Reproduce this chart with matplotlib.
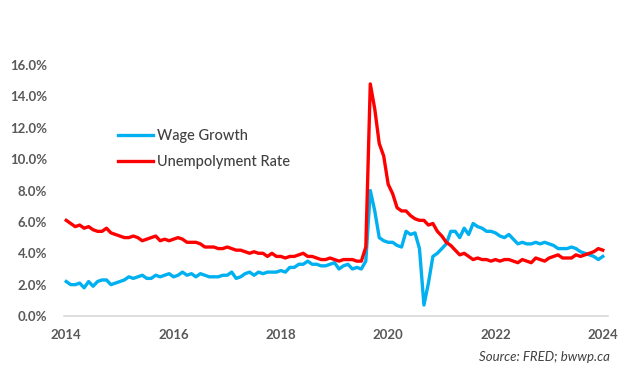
import matplotlib
matplotlib.use("Agg")
import matplotlib.pyplot as plt
from matplotlib.ticker import FuncFormatter

# monthly, Aug 2014 .. Aug 2024 (121 points)
unemployment = [
    6.1, 5.9, 5.7, 5.8, 5.6,
    5.7, 5.5, 5.4, 5.4, 5.6, 5.3, 5.2, 5.1, 5.0, 5.0, 5.1, 5.0,
    4.8, 4.9, 5.0, 5.1, 4.8, 4.9, 4.8, 4.9, 5.0, 4.9, 4.7, 4.7,
    4.7, 4.6, 4.4, 4.4, 4.4, 4.3, 4.3, 4.4, 4.3, 4.2, 4.2, 4.1,
    4.0, 4.1, 4.0, 4.0, 3.8, 4.0, 3.8, 3.8, 3.7, 3.8, 3.8, 3.9,
    4.0, 3.8, 3.8, 3.7, 3.6, 3.6, 3.7, 3.6, 3.5, 3.6, 3.6, 3.6,
    3.5, 3.5, 4.4, 14.8, 13.2, 11.0, 10.2, 8.4, 7.8, 6.9, 6.7, 6.7,
    6.4, 6.2, 6.1, 6.1, 5.8, 5.9, 5.4, 5.1, 4.7, 4.5, 4.2, 3.9,
    4.0, 3.8, 3.6, 3.7, 3.6, 3.6, 3.5, 3.6, 3.5, 3.6, 3.6, 3.5,
    3.4, 3.6, 3.5, 3.4, 3.7, 3.6, 3.5, 3.7, 3.8, 3.9, 3.7, 3.7,
    3.7, 3.9, 3.8, 3.9, 4.0, 4.1, 4.3, 4.2,
]
wage_growth = [
    2.2, 2.0, 2.0, 2.1, 1.8,
    2.2, 1.9, 2.2, 2.3, 2.3, 2.0, 2.1, 2.2, 2.3, 2.5, 2.4, 2.5,
    2.6, 2.4, 2.4, 2.6, 2.5, 2.6, 2.7, 2.5, 2.6, 2.8, 2.6, 2.7,
    2.5, 2.7, 2.6, 2.5, 2.5, 2.5, 2.6, 2.6, 2.8, 2.4, 2.5, 2.7,
    2.8, 2.6, 2.8, 2.7, 2.8, 2.8, 2.8, 2.9, 2.8, 3.1, 3.1, 3.3,
    3.3, 3.5, 3.3, 3.3, 3.2, 3.2, 3.3, 3.4, 3.0, 3.2, 3.3, 3.0,
    3.1, 3.0, 3.5, 8.0, 6.7, 5.0, 4.8, 4.7, 4.7, 4.5, 4.4, 5.4,
    5.2, 5.3, 4.3, 0.7, 2.1, 3.8, 4.0, 4.3, 4.6, 5.4, 5.4, 5.0,
    5.6, 5.2, 5.9, 5.7, 5.6, 5.4, 5.4,
    5.3, 5.1, 5.0, 5.2, 4.9, 4.6, 4.7, 4.6, 4.6, 4.7, 4.6, 4.7,
    4.6, 4.5, 4.3, 4.3, 4.3, 4.4, 4.3, 4.1, 4.0, 3.9, 3.8, 3.6, 3.8,
]
year_labels = ["2014", "2016", "2018", "2020", "2022", "2024"]
y_ticks = [0, 2, 4, 6, 8, 10, 12, 14, 16]

plt.rcParams['font.family'] = ['Lato', 'DejaVu Sans']

fig = plt.figure(figsize=(6.24, 3.74), dpi=100)
ax = fig.add_axes([0.1026, 0.155, 0.872, 0.671])

months = list(range(len(unemployment)))
ax.plot(months, wage_growth, color='#00B0F0', lw=2.4, label='Wage Growth',
        solid_joinstyle='round')
ax.plot(months, unemployment, color='#FF0000', lw=2.4, label='Unempolyment Rate',
        solid_joinstyle='round')

ax.set_xlim(-0.5, 121.2)
ax.set_ylim(0, 16)
ax.set_xticks(range(0, len(months), 24))
ax.set_xticklabels(year_labels)
ax.set_yticks(y_ticks)
ax.yaxis.set_major_formatter(FuncFormatter(lambda v, p: f"{v:.1f}%"))

for s in ['top', 'right', 'left']:
    ax.spines[s].set_visible(False)
ax.spines['bottom'].set_color('#d9d9d9')
ax.spines['bottom'].set_linewidth(1.2)
ax.tick_params(axis='both', length=0, labelsize=9.5, labelcolor='#595959')
ax.tick_params(axis='x', pad=9)
ax.tick_params(axis='y', pad=12)
for lab in ax.get_xticklabels() + ax.get_yticklabels():
    lab.set_fontweight('bold')

leg = ax.legend(loc='upper left', bbox_to_anchor=(0.099, 0.745), frameon=False,
                fontsize=10.5, handlelength=2.4, handletextpad=0.3,
                labelspacing=0.85, borderpad=0, borderaxespad=0)
for t in leg.get_texts():
    t.set_color('#404040')
    t.set_fontweight('medium')

fig.text(0.978, 0.045, "Source: FRED; bwwp.ca", ha='right', va='center',
         fontsize=9.5, style='italic', color='#404040')

fig.savefig("out.png", dpi=100)
